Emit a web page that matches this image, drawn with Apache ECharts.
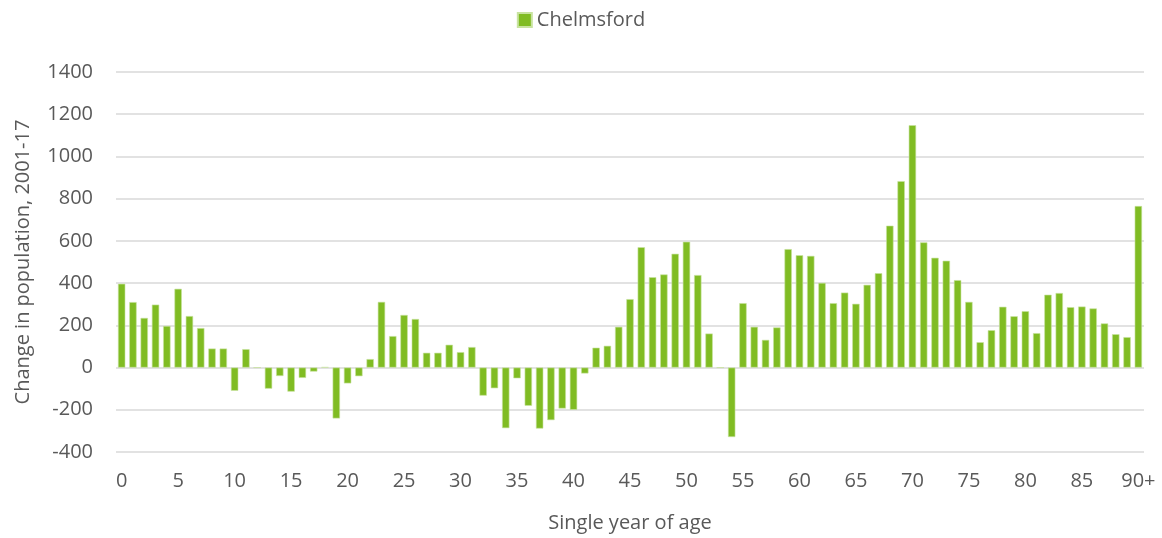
<!DOCTYPE html>
<html>
<head>
<meta charset="utf-8">
<script src="https://cdn.jsdelivr.net/npm/echarts@6/dist/echarts.min.js"></script>
<style>
  html, body { margin: 0; padding: 0; background: #fff; }
  #chart { width: 1162px; height: 538px; }
</style>
</head>
<body>
<div id="chart"></div>
<script>
// ages 0..89 and 90+
var ages = [];
for (var a = 0; a < 90; a++) ages.push(String(a));
ages.push("90+");

// change in population 2001-17
var chelmsford = [
  397, 310, 235, 298, 197, 373, 244, 187, 90, 90,
  -110, 87, 0, -100, -40, -114, -49, -19, 2, -241,
  -75, -41, 40, 311, 149, 249, 230, 70, 70, 108,
  73, 97, -133, -98, -287, -51, -181, -289, -249, -194,
  -200, -28, 94, 103, 193, 324, 570, 428, 441, 539,
  596, 438, 161, 0, -329, 305, 193, 131, 190, 561,
  532, 529, 401, 305, 355, 302, 392, 447, 672, 883,
  1148, 593, 520, 506, 414, 311, 120, 177, 288, 243,
  267, 163, 345, 353, 286, 289, 280, 209, 158, 144,
  765
];

var yTicks = { min: -400, max: 1400, step: 200 };

var chart = echarts.init(document.getElementById("chart"));
var txt = "#595959";
var font = "'Open Sans', sans-serif";

chart.setOption({
  backgroundColor: "#ffffff",
  textStyle: { fontFamily: font },
  legend: {
    top: 5,
    left: "center",
    itemWidth: 14,
    itemHeight: 14,
    itemGap: 6,
    icon: "rect",
    textStyle: { color: txt, fontSize: 20, fontFamily: font },
    data: ["Chelmsford"]
  },
  grid: {
    left: 116,
    right: 18,
    top: 72,
    bottom: 86,
    containLabel: false,
    outerBoundsMode: "none"
  },
  xAxis: {
    type: "category",
    data: ages,
    name: "Single year of age",
    nameLocation: "middle",
    nameGap: 61,
    nameTextStyle: { color: txt, fontSize: 20, fontFamily: font },
    axisLine: { show: false, onZero: false },
    axisTick: { show: false },
    axisLabel: {
      interval: 4,
      color: txt,
      fontSize: 20,
      margin: 19,
      fontFamily: font
    }
  },
  yAxis: {
    type: "value",
    min: yTicks.min,
    max: yTicks.max,
    interval: yTicks.step,
    name: "Change in population, 2001-17",
    nameLocation: "middle",
    nameGap: 83,
    nameTextStyle: { color: txt, fontSize: 20, fontFamily: font },
    axisLine: { show: false },
    axisTick: { show: false },
    axisLabel: {
      color: txt,
      fontSize: 20,
      margin: 23,
      fontFamily: font,
      formatter: function (v) { return String(v); }
    },
    splitLine: { lineStyle: { color: "#d9d9d9", width: 1.5 } }
  },
  series: [{
    name: "Chelmsford",
    type: "bar",
    data: chelmsford,
    barCategoryGap: "35%",
    itemStyle: { color: "#80bc23", borderColor: "#c8e3a0", borderWidth: 0.6 },
    animation: false
  }]
});
</script>
</body>
</html>
